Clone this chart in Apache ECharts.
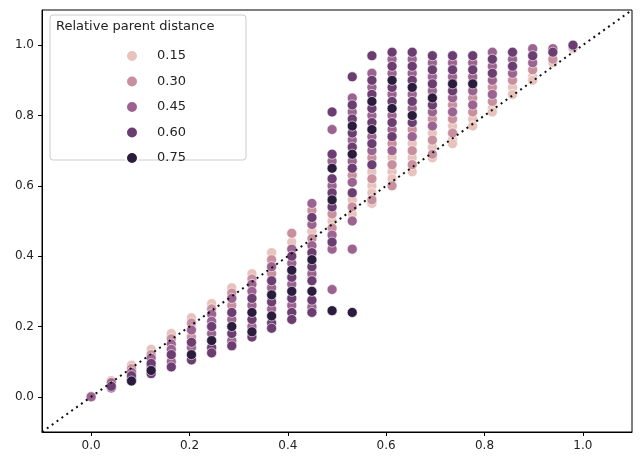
<!DOCTYPE html>
<html><head><meta charset="utf-8">
<script src="https://cdn.jsdelivr.net/npm/echarts@6/dist/echarts.min.js"></script>
<style>html,body{margin:0;padding:0;background:#fff}#c{width:640px;height:461px}</style>
</head><body><div id="c"></div>
<script>
const hueLabels = ['0.15','0.30','0.45','0.60','0.75'];
const hueColors = ['#e8c3bd','#c88f9f','#9c6290','#6b3d70','#2b1c3d'];
const colX = [0,0.041,0.082,0.122,0.163,0.204,0.245,0.286,0.327,0.367,0.408,0.449,0.49,0.531,0.571,0.612,0.653,0.694,0.735,0.776,0.816,0.857,0.898,0.939,0.98];
const colPts = [
 [[0,2],[0.0,1]],
 [[0.046,0],[0.04,2],[0.03,3],[0.025,2]],
 [[0.09,0],[0.08,1],[0.07,2],[0.06,3],[0.05,2],[0.045,4]],
 [[0.135,0],[0.12,1],[0.11,2],[0.095,3],[0.085,2],[0.075,4],[0.066,3]],
 [[0.18,0],[0.165,1],[0.15,2],[0.135,2],[0.12,3],[0.1,2],[0.085,3]],
 [[0.225,0],[0.21,1],[0.19,2],[0.17,1],[0.155,3],[0.14,2],[0.12,4],[0.105,3]],
 [[0.265,0],[0.25,1],[0.235,2],[0.215,2],[0.2,3],[0.18,2],[0.16,4],[0.14,3],[0.125,3]],
 [[0.31,0],[0.295,1],[0.28,2],[0.26,1],[0.24,3],[0.22,2],[0.2,4],[0.18,3],[0.16,2],[0.145,3]],
 [[0.35,0],[0.335,1],[0.32,2],[0.3,2],[0.28,3],[0.26,2],[0.24,4],[0.22,3],[0.2,2],[0.185,4],[0.17,3]],
 [[0.41,0],[0.39,1],[0.37,2],[0.35,1],[0.33,3],[0.31,2],[0.29,4],[0.27,3],[0.25,2],[0.23,4],[0.21,3],[0.195,3]],
 [[0.465,1],[0.44,0],[0.42,2],[0.4,3],[0.38,2],[0.36,4],[0.34,3],[0.32,2],[0.3,4],[0.28,3],[0.26,2],[0.24,3],[0.22,3]],
 [[0.55,2],[0.53,1],[0.51,3],[0.49,2],[0.47,0],[0.45,1],[0.43,2],[0.41,3],[0.39,4],[0.37,3],[0.35,2],[0.33,3],[0.3,4],[0.275,3],[0.255,2],[0.24,3]],
 [[0.81,3],[0.76,2],[0.69,3],[0.67,2],[0.65,4],[0.62,3],[0.6,2],[0.58,3],[0.56,4],[0.54,3],[0.52,1],[0.5,0],[0.48,1],[0.46,2],[0.44,3],[0.42,2],[0.305,2],[0.245,4]],
 [[0.91,3],[0.85,2],[0.83,3],[0.81,2],[0.79,3],[0.77,4],[0.75,3],[0.73,2],[0.71,3],[0.69,4],[0.67,2],[0.65,3],[0.63,1],[0.61,2],[0.58,3],[0.56,0],[0.54,1],[0.52,0],[0.50,2],[0.42,2],[0.24,4]],
 [[0.97,3],[0.92,2],[0.9,3],[0.88,2],[0.86,3],[0.84,4],[0.82,3],[0.8,2],[0.78,3],[0.76,4],[0.74,2],[0.72,3],[0.7,2],[0.68,1],[0.66,3],[0.64,0],[0.62,1],[0.6,0],[0.58,0],[0.56,1],[0.55,0]],
 [[0.98,3],[0.96,2],[0.94,3],[0.92,2],[0.9,4],[0.88,3],[0.86,2],[0.84,3],[0.82,4],[0.8,2],[0.78,3],[0.76,2],[0.74,3],[0.72,1],[0.7,2],[0.68,0],[0.66,1],[0.64,0],[0.62,0],[0.6,1]],
 [[0.98,3],[0.96,2],[0.94,3],[0.92,2],[0.9,3],[0.88,4],[0.86,2],[0.84,3],[0.82,2],[0.8,4],[0.78,3],[0.76,1],[0.74,2],[0.72,0],[0.7,1],[0.68,0],[0.66,1],[0.64,0]],
 [[0.97,3],[0.95,2],[0.93,3],[0.91,2],[0.89,3],[0.87,2],[0.85,4],[0.83,3],[0.81,2],[0.79,1],[0.77,2],[0.75,0],[0.73,1],[0.71,0],[0.69,1],[0.68,0]],
 [[0.97,3],[0.95,2],[0.93,3],[0.91,2],[0.89,4],[0.87,3],[0.85,2],[0.83,1],[0.81,2],[0.79,1],[0.77,0],[0.75,1],[0.73,0],[0.72,0]],
 [[0.97,3],[0.95,2],[0.93,3],[0.91,2],[0.89,4],[0.87,2],[0.85,1],[0.83,2],[0.81,1],[0.79,0],[0.77,0]],
 [[0.98,2],[0.96,3],[0.94,2],[0.92,3],[0.9,2],[0.88,1],[0.86,2],[0.84,1],[0.82,0],[0.81,0]],
 [[0.98,3],[0.96,2],[0.94,3],[0.92,2],[0.9,1],[0.88,0],[0.86,0]],
 [[0.99,2],[0.97,3],[0.95,2],[0.93,1],[0.91,0],[0.9,0]],
 [[0.99,2],[0.98,3],[0.96,1],[0.95,0]],
 [[1.0,2],[0.995,1],[1.0,3],[0.99,0]]
];
const tickVals = [0,0.2,0.4,0.6,0.8,1.0];
const diag = [[-0.1,-0.1],[1.1,1.1]];

const groups = hueLabels.map(()=>[]);
colPts.forEach((pts,i)=>pts.forEach(p=>groups[p[1]].push([colX[i],p[0]])));
const font = 'DejaVu Sans';
const axisCommon = {
  min:-0.1, max:1.1,
  axisLine:{onZero:false,lineStyle:{color:'#000',width:1}},
  axisTick:{show:true,customValues:tickVals,length:4,lineStyle:{color:'#000'}},
  axisLabel:{customValues:tickVals,color:'#222',fontFamily:font,fontSize:12,formatter:v=>v.toFixed(1)},
  splitLine:{show:false}
};
const series = groups.map((g,i)=>({
  name:hueLabels[i], type:'scatter', data:g, symbolSize:10,
  itemStyle:{color:hueColors[i],borderColor:'#fff',borderWidth:0.6,opacity:1}, z:3
}));
series.push({type:'line',data:diag,symbol:'none',silent:true,z:5,
  lineStyle:{color:'#111',width:2,type:[2,4]}});
const chart = echarts.init(document.getElementById('c'));
chart.setOption({
  animation:false,
  grid:{left:42,right:8,top:10,bottom:29,show:true,borderColor:'#000',borderWidth:1},
  xAxis:Object.assign({type:'value'},axisCommon,{position:'bottom'}),
  yAxis:Object.assign({type:'value'},axisCommon,{position:'left'}),
  legend:{z:20,orient:'vertical',left:120,top:44,itemWidth:12,itemHeight:12,itemGap:11.5,icon:'circle',
    data:hueLabels,textStyle:{fontFamily:font,fontSize:13,color:'#222',padding:[0,0,0,14]}},
  graphic:[
    {type:'rect',z:1,shape:{x:50,y:15,width:196,height:145,r:3},style:{fill:'rgba(255,255,255,0.85)',stroke:'#ccc',lineWidth:1}},
    {type:'text',z:2,x:56,y:20,style:{text:'Relative parent distance',font:'13px DejaVu Sans',fill:'#222'}}
  ],
  series:series
});
</script></body></html>
